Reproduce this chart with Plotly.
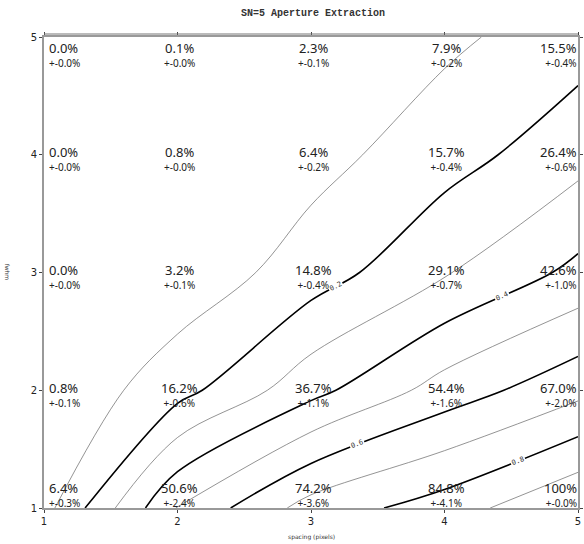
import plotly.graph_objects as go

# grid axes
spacing = [1, 2, 3, 4, 5]
fwhm = [1, 2, 3, 4, 5]

# extraction fraction (percent), rows follow fwhm = 1..5
frac_pct = [
    [6.4, 50.6, 74.2, 84.8, 100.0],
    [0.8, 16.2, 36.7, 54.4, 67.0],
    [0.0, 3.2, 14.8, 29.1, 42.6],
    [0.0, 0.8, 6.4, 15.7, 26.4],
    [0.0, 0.1, 2.3, 7.9, 15.5],
]
# uncertainty (percent)
err_pct = [
    [0.3, 2.4, 3.6, 4.1, 0.0],
    [0.1, 0.6, 1.1, 1.6, 2.0],
    [0.0, 0.1, 0.4, 0.7, 1.0],
    [0.0, 0.0, 0.2, 0.4, 0.6],
    [0.0, 0.0, 0.1, 0.2, 0.4],
]

z = [[v / 100.0 for v in row] for row in frac_pct]

fig = go.Figure()

# thin unlabeled contours at odd tenths
fig.add_trace(go.Contour(
    x=spacing, y=fwhm, z=z,
    contours=dict(coloring="none", start=0.1, end=0.9, size=0.2, showlabels=False),
    line=dict(color="#666666", width=0.7, smoothing=1.0),
    showscale=False, hoverinfo="skip",
))
# thick labeled contours at even tenths
fig.add_trace(go.Contour(
    x=spacing, y=fwhm, z=z,
    contours=dict(coloring="none", start=0.2, end=0.8, size=0.2, showlabels=True,
                  labelfont=dict(size=7, color="#333333", family="DejaVu Sans Mono"),
                  labelformat=".1f"),
    line=dict(color="black", width=1.6, smoothing=1.0),
    showscale=False, hoverinfo="skip",
))

cell_font = dict(family="Noto Sans", size=11, color="#222222")

for j, yv in enumerate(fwhm):
    for i, xv in enumerate(spacing):
        v = frac_pct[j][i]
        e = err_pct[j][i]
        txt = "100%" if v >= 100 else f"{v:.1f}%"
        etxt = f"+-{e:.1f}%"
        label = f"<span style='font-size:13px'>{txt}</span><br><span style='font-size:10px'>{etxt}</span>"
        if i == 0:
            xa = "left"; xs = 4
        elif i == len(spacing) - 1:
            xa = "right"; xs = 0
        else:
            xa = "center"; xs = 2
        if j == len(fwhm) - 1:
            ys = -17
        elif j == 0:
            ys = 14
        else:
            ys = -4
        fig.add_annotation(x=xv, y=yv, text=label, showarrow=False, xanchor=xa, align=xa,
                           yanchor="middle", xshift=xs, yshift=ys, font=cell_font,
                           borderpad=0)

# axis titles drawn as small annotations
fig.add_annotation(x=0.5, xref="paper", y=-0.075, yref="paper", text="spacing (pixels)",
                   showarrow=False, font=dict(family="DejaVu Sans", size=6, color="#333333"))
fig.add_annotation(x=-0.078, xref="paper", y=0.5, yref="paper", text="fwhm",
                   showarrow=False, textangle=90,
                   font=dict(family="DejaVu Sans", size=6, color="#333333"))

# doubled frame line along the top
fig.add_shape(type="line", xref="paper", yref="paper", x0=0, x1=1,
              ysizemode="pixel", yanchor=1, y0=3, y1=3,
              line=dict(color="#777777", width=1))

fig.update_layout(
    width=584, height=544,
    margin=dict(l=44, r=1, t=37, b=36),
    paper_bgcolor="white", plot_bgcolor="white",
    title=dict(text="<b>SN=5 Aperture Extraction</b>", x=0.536, xanchor="center", y=0.983,
               yanchor="top", font=dict(family="Liberation Mono", size=10, color="#333333")),
    showlegend=False,
    xaxis=dict(range=[1, 5], tickvals=spacing, ticks="outside", ticklen=3, tickwidth=1,
               showgrid=False, zeroline=False, showline=True, linecolor="#999999",
               linewidth=2, mirror="ticks",
               tickfont=dict(family="DejaVu Sans", size=10, color="#222222")),
    yaxis=dict(range=[1, 5], tickvals=fwhm, ticks="outside", ticklen=3, tickwidth=1,
               showgrid=False, zeroline=False, showline=True, linecolor="#999999",
               linewidth=2, mirror="ticks",
               tickfont=dict(family="DejaVu Sans", size=10, color="#222222")),
)

fig.write_html("out.html")
